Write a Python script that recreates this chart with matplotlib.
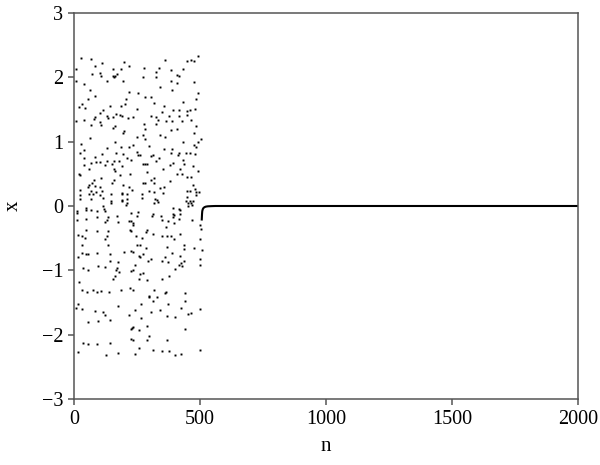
import numpy as np
import matplotlib
matplotlib.use("Agg")
import matplotlib.pyplot as plt

# Chaotic phase (before control) as (n, x) pairs.
# upper band, x > 0.8
upper_n = [28, 64, 111, 81, 197, 215, 5, 152, 185, 275, 71, 101, 104, 152, 158, 161, 170,
           130, 194, 6, 273, 40, 61, 215, 251, 83, 54, 204, 30, 19, 43, 141, 186, 200,
           112, 101, 247, 128, 152, 167, 183, 191, 214, 234, 40, 83, 76, 6, 132, 160,
           101, 105, 67, 152, 275, 279, 194, 199, 61, 247, 273, 27, 234, 40, 128, 163,
           186, 218, 22, 109, 167, 194, 247, 252,
           493, 358, 447, 463, 476, 337, 325, 383, 432, 326, 407, 414, 382, 406, 475,
           340, 389, 491, 280, 305, 483, 317, 430, 356, 481, 390, 415, 447, 461, 350,
           447, 305, 324, 377, 414, 363, 333, 464, 387, 427, 325, 483, 382, 406, 475,
           341, 359, 501, 279, 491, 430, 297, 477, 483, 354, 387, 460, 443, 385, 414,
           313, 479]
upper_x = [2.30, 2.28, 2.23, 2.18, 2.24, 2.18, 2.13, 2.13, 2.13, 2.15, 2.05, 2.06, 2.02, 2.02,
           2.00, 2.02, 2.05, 1.94, 1.94, 1.94, 2.00, 1.89, 1.80, 1.77, 1.76, 1.71, 1.67,
           1.67, 1.59, 1.54, 1.53, 1.55, 1.55, 1.59, 1.49, 1.44, 1.51, 1.40, 1.39, 1.43,
           1.41, 1.40, 1.37, 1.39, 1.34, 1.39, 1.36, 1.32, 1.37, 1.24, 1.31, 1.26, 1.26,
           1.22, 1.27, 1.20, 1.14, 1.16, 1.06, 1.07, 1.10, 0.96, 0.95, 0.87, 0.90, 0.99,
           0.91, 0.92, 0.83, 0.81, 0.83, 0.81, 0.84, 0.80,
           2.33, 2.27, 2.26, 2.27, 2.25, 2.15, 2.08, 2.12, 2.13, 2.01, 2.03, 2.02, 1.94,
           1.91, 1.92, 1.85, 1.80, 1.75, 1.70, 1.69, 1.67, 1.60, 1.62, 1.56, 1.51, 1.49,
           1.49, 1.47, 1.50, 1.46, 1.41, 1.40, 1.38, 1.40, 1.40, 1.32, 1.33, 1.34, 1.32,
           1.32, 1.28, 1.25, 1.18, 1.19, 1.13, 1.10, 1.08, 1.04, 1.04, 1.00, 0.99, 0.94,
           0.95, 0.92, 0.88, 0.89, 0.83, 0.82, 0.83, 0.82, 0.80, 0.81]

# middle band, -0.85 < x < 0.8
middle_n = [38, 80, 210, 260, 65, 84, 101, 128, 150, 158, 179, 224, 272, 38, 121, 158, 162,
            191, 59, 19, 23, 181, 222, 107, 77, 71, 158, 150, 194, 271, 59, 80, 53, 101,
            24, 67, 84, 109, 216, 228, 59, 75, 102, 146, 190, 190, 208, 22, 22, 65, 114,
            189, 207, 190, 210, 206, 144, 145, 268, 268, 46, 46, 67, 88, 114, 117, 120,
            11, 11, 10, 170, 133, 130, 120, 173, 223, 252, 250, 218, 226, 234, 231, 47,
            91, 14, 47, 88, 132, 219, 224, 122, 130, 32, 43, 244, 267, 32, 133, 250, 261,
            31, 46, 55, 88, 141, 196, 223, 231, 255, 260, 273, 15,
            303, 336, 413, 324, 279, 287, 378, 391, 432, 434, 472, 491, 419, 352, 409,
            427, 288, 448, 463, 318, 303, 281, 318, 379, 472, 481, 340, 356, 297, 318,
            353, 447, 461, 484, 495, 483, 448, 321, 329, 318, 333, 442, 459, 472, 453,
            465, 469, 451, 393, 414, 418, 311, 308, 344, 390, 397, 391, 419, 415, 467,
            348, 370, 395, 362, 287, 284, 313, 348, 369, 395, 419, 382, 435, 366, 434,
            284, 475, 506, 387, 305, 360, 419, 500, 498, 504, 499]
middle_x = [0.74, 0.76, 0.75, 0.79, 0.67, 0.68, 0.68, 0.70, 0.66, 0.70, 0.70, 0.71, 0.65,
            0.64, 0.63, 0.57, 0.55, 0.62, 0.57, 0.50, 0.48, 0.48, 0.50, 0.44, 0.40, 0.36,
            0.40, 0.35, 0.33, 0.35, 0.33, 0.31, 0.29, 0.30, 0.25, 0.24, 0.21, 0.23, 0.29,
            0.25, 0.19, 0.19, 0.17, 0.18, 0.20, 0.18, 0.18, 0.17, 0.11, 0.11, 0.12, 0.10,
            0.11, 0.07, 0.05, 0.02, 0.04, 0.07, 0.19, 0.12, -0.03, -0.07, -0.06, -0.08,
            0.00, -0.04, -0.08, -0.08, -0.11, -0.22, -0.15, -0.17, -0.22, -0.25, -0.25,
            -0.11, -0.10, -0.16, -0.24, -0.23, -0.26, -0.30, -0.20, -0.17, -0.45, -0.38,
            -0.39, -0.39, -0.38, -0.39, -0.51, -0.47, -0.47, -0.49, -0.46, -0.49, -0.60,
            -0.60, -0.61, -0.61, -0.73, -0.74, -0.74, -0.73, -0.74, -0.72, -0.70, -0.72,
            -0.77, -0.80, -0.74, -0.80,
            0.77, 0.74, 0.79, 0.70, 0.66, 0.65, 0.63, 0.67, 0.71, 0.65, 0.62, 0.54, 0.57,
            0.57, 0.49, 0.49, 0.53, 0.45, 0.45, 0.44, 0.40, 0.36, 0.36, 0.39, 0.32, 0.26,
            0.28, 0.29, 0.23, 0.21, 0.20, 0.23, 0.23, 0.22, 0.21, 0.17, 0.14, 0.11, 0.10,
            0.04, 0.06, 0.08, 0.08, 0.07, 0.04, 0.04, 0.01, -0.00, -0.03, -0.04, -0.06,
            -0.12, -0.16, -0.16, -0.12, -0.14, -0.17, -0.12, -0.20, -0.21, -0.22, -0.23,
            -0.26, -0.33, -0.37, -0.40, -0.43, -0.46, -0.47, -0.51, -0.44, -0.46, -0.60,
            -0.64, -0.67, -0.65, -0.66, -0.69, -0.73, -0.82, -0.80, -0.78, -0.82, -0.30,
            -0.35, -0.51]

# lower band, x < -0.85
lower_n = [141, 175, 93, 122, 170, 242, 35, 56, 178, 167, 234, 226, 260, 271, 161, 152, 255,
           19, 30, 51, 72, 91, 104, 138, 186, 220, 231, 16, 8, 32, 175, 83, 112, 122,
           263, 242, 218, 265, 53, 93, 141, 228, 223, 234, 257, 35, 53, 91, 140, 223, 231,
           257, 16, 175, 125, 242,
           292, 348, 371, 398, 414, 422, 427, 435, 499, 287, 349, 375, 316, 358, 363, 438,
           295, 297, 329, 313, 440, 371, 342, 424, 305, 366, 398, 451, 465, 499, 287, 438,
           295, 289, 366, 314, 348, 374, 398, 424, 499]
lower_x = [-0.86, -0.87, -0.93, -0.95, -0.96, -0.92, -0.96, -1.00, -1.03, -1.00, -1.00,
           -1.01, -1.05, -1.04, -1.09, -1.14, -1.14, -1.18, -1.31, -1.34, -1.30, -1.34,
           -1.32, -1.34, -1.31, -1.28, -1.30, -1.53, -1.58, -1.60, -1.56, -1.64, -1.65,
           -1.69, -1.52, -1.62, -1.70, -1.74, -1.80, -1.79, -1.78, -1.90, -1.92, -1.88,
           -1.93, -2.13, -2.15, -2.14, -2.13, -2.06, -2.08, -2.20, -2.27, -2.28, -2.32,
           -2.30,
           -0.85, -0.86, -0.87, -0.98, -0.92, -0.89, -0.93, -0.86, -0.92, -1.15, -1.13,
           -1.09, -1.30, -1.35, -1.34, -1.35, -1.40, -1.42, -1.42, -1.48, -1.48, -1.53,
           -1.62, -1.59, -1.65, -1.71, -1.72, -1.68, -1.66, -1.60, -1.87, -1.92, -2.02,
           -2.09, -2.08, -2.24, -2.26, -2.25, -2.31, -2.30, -2.24]

# Controlled phase: trajectory settles to 0
ctrl_n = [506, 507, 508, 510, 513, 517, 522, 530, 545, 560, 2000]
ctrl_x = [-0.21, -0.13, -0.08, -0.05, -0.03, -0.018, -0.01, -0.005, -0.002, 0.0, 0.0]

xticks = [0, 500, 1000, 1500, 2000]
yticks = [-3, -2, -1, 0, 1, 2, 3]

plt.rcParams['font.family'] = ['Liberation Serif', 'DejaVu Serif']

fig = plt.figure(figsize=(6, 4.65), dpi=100)
ax = fig.add_axes([0.124, 0.142, 0.839, 0.830])

n_all = np.concatenate([upper_n, middle_n, lower_n])
x_all = np.concatenate([upper_x, middle_x, lower_x])
ax.plot(n_all, x_all, linestyle='none', marker='s', markersize=1.4,
        markeredgewidth=0, color='black')
ax.plot(ctrl_n, ctrl_x, color='black', linewidth=1.5)

ax.set_xlim(0, 2000)
ax.set_ylim(-3, 3)
ax.set_xticks(xticks)
ax.set_yticks(yticks)
ax.set_yticklabels([str(t).replace('-', '\u2212') for t in yticks])
ax.set_xlabel('n', fontsize=15, labelpad=6)
ax.set_ylabel('x', fontsize=15, labelpad=14, rotation=90)

for sp in ax.spines.values():
    sp.set_color('#555555')
    sp.set_linewidth(1.1)
ax.tick_params(direction='out', length=4, width=1.1, color='#555555',
               labelsize=14.5, pad=4)

fig.savefig('out.png', dpi=100)
